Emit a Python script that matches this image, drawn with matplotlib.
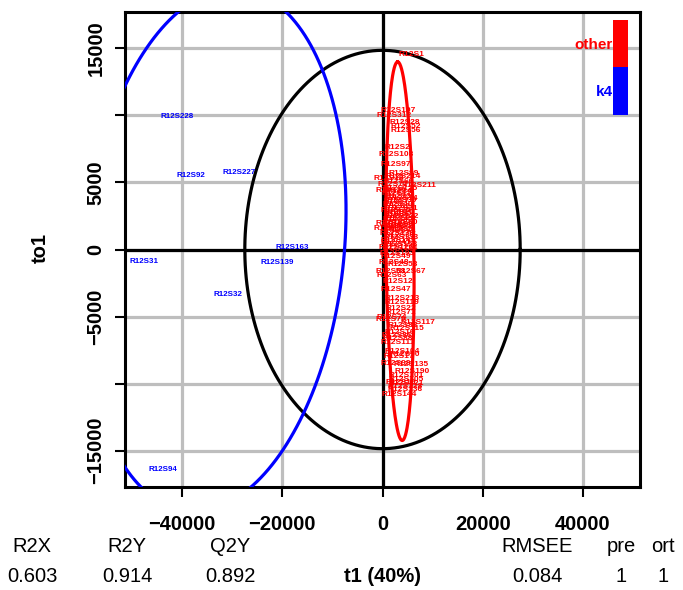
import numpy as np
import matplotlib
matplotlib.use("Agg")
import matplotlib.pyplot as plt
from matplotlib.patches import Rectangle

# ---------------- data ----------------
k4_names = ["R12S228", "R12S92", "R12S227", "R12S163", "R12S139", "R12S31", "R12S32", "R12S94"]
k4_t1 = [-41000, -38200, -28600, -18000, -21000, -47600, -30800, -43800]
k4_to1 = [9925, 5520, 5750, 150, -970, -900, -3360, -16400]

other_names = [
    "R12S1", "R12S107", "R12S312", "R12S28", "R12S52", "R12S56", "R12S108", "R12S97",
    "R12S99", "R12S214", "R12S18", "R12S66", "R12S211", "R12S77", "R12S20", "R12S125",
    "R12S3", "R12S39", "R12S40", "R12S21", "R12S10", "R12S122", "R12S45", "R12S60",
    "R12S72", "R12S13", "R12S85", "R12S61", "R12S176", "R12S133", "R12S149", "R12S158",
    "R12S126", "R12S5", "R12S7", "R12S9", "R12S11", "R12S14", "R12S23", "R12S25",
    "R12S29", "R12S33", "R12S36", "R12S41", "R12S124", "R12S193", "R12S49", "R12S48",
    "R12S53", "R12S67", "R12S58", "R12S63", "R12S47", "R12S213", "R12S119", "R12S22",
    "R12S71", "R12S74", "R12S79", "R12S117", "R12S82", "R12S115", "R12S86", "R12S88",
    "R12S111", "R12S104", "R12S90", "R12S98", "R12S135", "R12S190", "R12S101", "R12S105",
    "R12S121", "R12S128", "R12S136", "R12S144",
    "R12S2", "R12S4", "R12S6", "R12S8", "R12S12", "R12S16", "R12S17", "R12S19",
]
other_t1 = [
    5800, 3200, 2400, 4400, 4600, 4600, 2800, 2600,
    4200, 4200, 1200, 3200, 7200, 2000, 1600, 3600,
    3200, 3800, 3000, 4000, 3200, 3800, 3000, 4000,
    3200, 1600, 1200, 3600, 3000, 3800, 3200, 3600,
    2800, 3400, 2800, 3600, 2800, 4000, 3400, 2600,
    3600, 2800, 3400, 2600, 3600, 3000, 2600, 2200,
    4000, 5600, 1600, 1800, 2600, 4000, 3800, 3600,
    3600, 1800, 1600, 7000, 4000, 4800, 2800, 3000,
    3000, 4000, 4400, 2600, 5800, 6000, 4800, 4800,
    4800, 4600, 4600, 3400,
    3000, 3400, 2800, 3600, 3000, 3400, 3200, 3600,
]
other_to1 = [
    14550, 10370, 10000, 9480, 9180, 8880, 7090, 6340,
    5670, 5450, 5300, 5070, 4780, 4850, 4400, 4550,
    3960, 3660, 3360, 3060, 2760, 2460, 2240, 2010,
    1720, 1940, 1570, 1420, 1190, 900, 670, 370,
    150, 2690, 3580, 1490, 4180, 3810, 3210, 2910,
    2310, 1790, 1040, 520, 70, -300, -520, -970,
    -1120, -1640, -1640, -1940, -2990, -3660, -3960, -4400,
    -4700, -5070, -5220, -5450, -5670, -5900, -6420, -6640,
    -6940, -7610, -7840, -8510, -8580, -9100, -9400, -9700,
    -10000, -10220, -10450, -10820,
    7600, 4300, 2600, 1900, -2400, -6200, -8000, -9900,
]

stat_names = ["R2X", "R2Y", "Q2Y", "RMSEE", "pre", "ort"]
stat_values = ["0.603", "0.914", "0.892", "0.084", "1", "1"]
x_label = "t1 (40%)"
y_label = "to1"
class_labels = ["other", "k4"]
class_colors = ["#FF0000", "#0000FF"]

x_ticks = [-40000, -20000, 0, 20000, 40000]
y_ticks = [-15000, -10000, -5000, 0, 5000, 10000, 15000]
y_ticklabels = ["\u221215000", "", "\u22125000", "0", "5000", "", "15000"]
x_ticklabels = ["\u221240000", "\u221220000", "0", "20000", "40000"]

# ---------------- helpers ----------------
def class_ellipse(x, y, npts=200):
    """95% chi-square ellipse from the class covariance (as ropls)."""
    xy = np.column_stack([x, y]).astype(float)
    mu = xy.mean(axis=0)
    cov = np.cov(xy, rowvar=False)
    u, d, _ = np.linalg.svd(cov)
    csq = -2.0 * np.log(0.05)
    rad = np.sqrt(csq * d)
    th = np.linspace(0, 2 * np.pi, npts)
    circ = np.vstack([rad[0] * np.cos(th), rad[1] * np.sin(th)])
    pts = u @ circ
    return pts[0] + mu[0], pts[1] + mu[1]

def hotelling_ellipse(x, y, npts=200):
    n = len(x)
    d2 = n - 2
    fq = d2 / 2.0 * (0.05 ** (-2.0 / d2) - 1.0)  # qf(0.95, 2, n-2)
    hot = (n - 1) * 2 * (n ** 2 - 1) / (n ** 2 * (n - 2)) * fq
    rx = np.sqrt(np.var(x, ddof=1) * hot)
    ry = np.sqrt(np.var(y, ddof=1) * hot)
    th = np.linspace(0, 2 * np.pi, npts)
    return rx * np.cos(th), ry * np.sin(th)

# ---------------- figure ----------------
plt.rcParams['font.family'] = ['Liberation Sans', 'DejaVu Sans']
fig = plt.figure(figsize=(6.83, 5.90), dpi=100)
ax = fig.add_axes([125 / 683, 1 - 487 / 590, 515 / 683, 475 / 590])

all_t1 = np.array(k4_t1 + other_t1, dtype=float)
all_to1 = np.array(k4_to1 + other_to1, dtype=float)
xmax = np.max(np.abs(all_t1)) * 1.08
ymax = np.max(np.abs(all_to1)) * 1.08
ax.set_xlim(-xmax, xmax)
ax.set_ylim(-ymax, ymax)

grid_col = "#BEBEBE"
for xv in x_ticks:
    ax.axvline(xv, color=grid_col, lw=2.3, zorder=0)
for yv in y_ticks:
    ax.axhline(yv, color=grid_col, lw=2.3, zorder=0)
ax.axvline(0, color="black", lw=2.3, zorder=1)
ax.axhline(0, color="black", lw=2.3, zorder=1)

# Hotelling ellipse
hx, hy = hotelling_ellipse(all_t1, all_to1)
ax.plot(hx, hy, color="black", lw=2.3, zorder=2)

# class ellipses
ex, ey = class_ellipse(other_t1, other_to1)
ax.plot(ex, ey, color=class_colors[0], lw=2.3, zorder=3)
bx, by = class_ellipse(k4_t1, k4_to1)
ax.plot(bx, by, color=class_colors[1], lw=2.3, zorder=3)

# labels
for nm, xv, yv in zip(other_names, other_t1, other_to1):
    ax.text(xv, yv, nm, color=class_colors[0], fontsize=6.0, fontweight="bold",
            ha="center", va="center", zorder=4)
for nm, xv, yv in zip(k4_names, k4_t1, k4_to1):
    ax.text(xv, yv, nm, color=class_colors[1], fontsize=5.8, fontweight="bold",
            ha="center", va="center", zorder=4)

# legend bar
ax.add_patch(Rectangle((0.9476, 0.884), 0.029, 0.099, transform=ax.transAxes,
                       facecolor=class_colors[0], edgecolor="none", zorder=5, clip_on=False))
ax.add_patch(Rectangle((0.9476, 0.783), 0.029, 0.101, transform=ax.transAxes,
                       facecolor=class_colors[1], edgecolor="none", zorder=5, clip_on=False))
ax.text(0.9476, 0.931, class_labels[0], transform=ax.transAxes, color=class_colors[0],
        fontsize=11, fontweight="bold", ha="right", va="center", zorder=6)
ax.text(0.9476, 0.832, class_labels[1], transform=ax.transAxes, color=class_colors[1],
        fontsize=11, fontweight="bold", ha="right", va="center", zorder=6)

# axes styling
for sp in ax.spines.values():
    sp.set_linewidth(2.2)
    sp.set_color("black")
ax.set_xticks(x_ticks)
ax.set_xticklabels(x_ticklabels, fontweight="bold", fontsize=14.5)
ax.set_yticks(y_ticks)
ax.set_yticklabels(y_ticklabels, fontweight="bold", fontsize=14.5, rotation=90, va="center")
ax.tick_params(axis="x", direction="out", length=7, width=1.5, pad=13)
ax.tick_params(axis="y", direction="out", length=7, width=1.5, pad=7)
ax.tick_params(top=False, right=False)

fig.text(40 / 683, 1 - 248 / 590, y_label, rotation=90, fontsize=14.5, fontweight="bold",
         ha="center", va="center")

# bottom statistics rows
stat_x = [32, 127, 230, 537, 621, 663]
for xs, nm, val in zip(stat_x, stat_names, stat_values):
    fig.text(xs / 683, 1 - 547 / 590, nm, fontsize=14.5, ha="center", va="center")
    fig.text(xs / 683, 1 - 576 / 590, val, fontsize=14.5, ha="center", va="center")
fig.text(382 / 683, 1 - 576 / 590, x_label, fontsize=14.5, fontweight="bold",
         ha="center", va="center")

fig.savefig("out.png", dpi=100)
